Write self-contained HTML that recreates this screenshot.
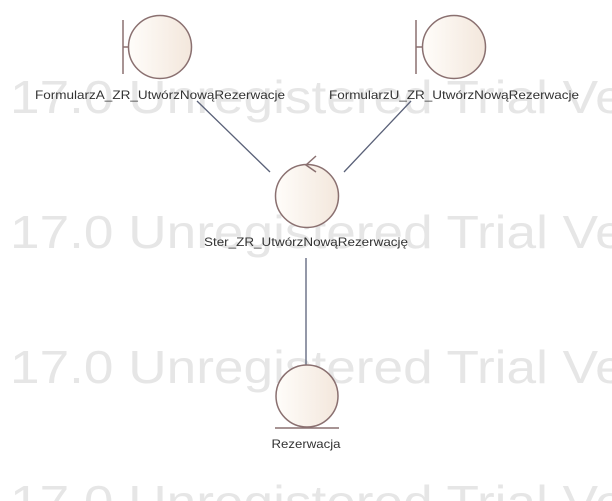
<!DOCTYPE html>
<html><head><meta charset="utf-8"><style>
html,body{margin:0;padding:0;background:#fff;width:612px;height:501px;overflow:hidden;}
svg{display:block;}
.wm{font-family:"Liberation Sans",sans-serif;font-size:46px;fill:#e6e6e6;}
.lb{font-family:"Liberation Sans",sans-serif;font-size:12px;fill:#333;}
</style></head><body>
<svg width="612" height="501" viewBox="0 0 612 501" xmlns="http://www.w3.org/2000/svg">
<defs>
<linearGradient id="g" x1="0" x2="1" y1="0" y2="0">
<stop offset="0" stop-color="#fffdfa"/><stop offset="1" stop-color="#f3e7dc"/>
</linearGradient>
</defs>
<text class="wm" x="10" y="113" textLength="730" lengthAdjust="spacingAndGlyphs">17.0 Unregistered Trial Version</text>
<text class="wm" x="10" y="248" textLength="730" lengthAdjust="spacingAndGlyphs">17.0 Unregistered Trial Version</text>
<text class="wm" x="10" y="383" textLength="730" lengthAdjust="spacingAndGlyphs">17.0 Unregistered Trial Version</text>
<text class="wm" x="10" y="518" textLength="730" lengthAdjust="spacingAndGlyphs">17.0 Unregistered Trial Version</text>

<g stroke="#5a6178" stroke-width="1.3">
<line x1="197" y1="101" x2="270" y2="172"/>
<line x1="411" y1="101" x2="344" y2="172"/>
<line x1="306" y1="258" x2="306" y2="365"/>
</g>

<g stroke="#8a7070" stroke-width="1.5" fill="url(#g)">
<line x1="123" y1="20" x2="123" y2="74"/>
<line x1="123" y1="47" x2="128" y2="47"/>
<circle cx="160" cy="47" r="31.5"/>
<line x1="416" y1="20" x2="416" y2="74"/>
<line x1="416" y1="47" x2="422" y2="47"/>
<circle cx="454" cy="47" r="31.5"/>
<circle cx="307" cy="196" r="31.5"/>
<polyline points="316,156 306,165 316,172" fill="none"/>
<circle cx="307" cy="396" r="31"/>
<line x1="275" y1="428" x2="339" y2="428"/>
</g>

<text class="lb" x="160" y="99" text-anchor="middle" textLength="250" lengthAdjust="spacingAndGlyphs">FormularzA_ZR_UtwórzNowąRezerwacje</text>
<text class="lb" x="454" y="99" text-anchor="middle" textLength="250" lengthAdjust="spacingAndGlyphs">FormularzU_ZR_UtwórzNowąRezerwacje</text>
<text class="lb" x="306" y="246" text-anchor="middle" textLength="204" lengthAdjust="spacingAndGlyphs">Ster_ZR_UtwórzNowąRezerwację</text>
<text class="lb" x="306" y="448" text-anchor="middle" textLength="69" lengthAdjust="spacingAndGlyphs">Rezerwacja</text>
</svg>
</body></html>
